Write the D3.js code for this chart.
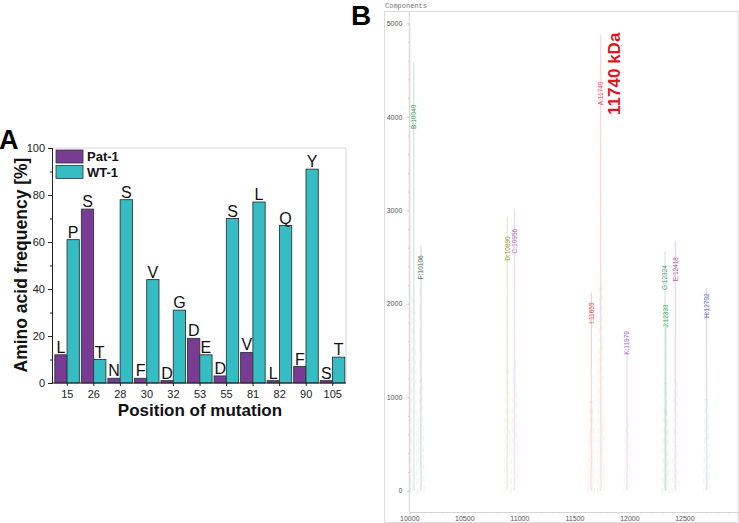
<html lang='en'>
<head>
<meta charset='UTF-8' />
<script src='https://d3js.org/d3.v7.min.js'></script>
<style>
  body { margin: 0; background: #fff; }
  text { font-family: 'Liberation Sans', Arial, sans-serif; }
  .mono { font-family: 'Liberation Mono', 'DejaVu Sans Mono', monospace; }
</style>
<title>Amino acid frequency and components</title>
</head>
<body>
<div id='chart'></div>
<script>
// panel A data
const positions = ["15", "26", "28", "30", "32", "53", "55", "81", "82", "90", "105"];
const patValues = [12, 74, 2, 2, 1, 19, 3, 13, 1, 7, 1];
const wtValues = [61, 10, 78, 44, 31, 12, 70, 77, 67, 91, 11];
const patLetters = ["L", "S", "N", "F", "D", "D", "D", "V", "L", "F", "S"];
const wtLetters = ["P", "T", "S", "V", "G", "E", "S", "L", "Q", "Y", "T"];
const seriesNames = ["Pat-1", "WT-1"];
const yTicksA = [0, 20, 40, 60, 80, 100];

// panel B data (deconvoluted components)
const compNames = ["A", "B", "C", "D", "E", "F", "G", "H", "I", "J", "K"];
const compMass = [11740, 10040, 10956, 10890, 12418, 10106, 12324, 12702, 11655, 12333, 11979];
const compHeight = [4880, 4590, 3010, 2930, 2670, 2620, 2560, 2170, 2120, 1980, 1700];
const compLabelAt = [4250, 4000, 2670, 2590, 2370, 2390, 2280, 1980, 1900, 1870, 1580];
const compColors = ["#e0505a", "#3f9c5f", "#b866c0", "#9c9a3c", "#a656a6", "#55705a",
                    "#4f9e86", "#5468b4", "#e0464e", "#46ae66", "#b070c0"];
const xTicksB = [10000, 10500, 11000, 11500, 12000, 12500];
const yTicksB = [0, 1000, 2000, 3000, 4000, 5000];

const W = 739, H = 523;
const svg = d3.select("#chart").append("svg").attr("width", W).attr("height", H);

// ---------- panel A ----------
const colA = d3.scaleOrdinal().domain(seriesNames).range(["#7a3b93", "#36bcc3"]);
const xA = d3.scaleBand().domain(positions).range([54, 346]).paddingInner(0).paddingOuter(0);
const xSub = d3.scaleBand().domain(seriesNames).range([0.8, xA.bandwidth() - 1.2]).padding(0);
const yA = d3.scaleLinear().domain([0, 100]).range([383, 148]);

const gA = svg.append("g");

// frame top/right
gA.append("path")
  .attr("d", `M52,${yA(100)}H346V${yA(0)}`)
  .attr("fill", "none").attr("stroke", "#d8d8d8").attr("stroke-width", 1);

const series = [
  { name: "Pat-1", values: patValues, letters: patLetters },
  { name: "WT-1", values: wtValues, letters: wtLetters }
];

series.forEach((s) => {
  const g = gA.append("g");
  const rows = positions.map((p, i) => ({ p, v: s.values[i], l: s.letters[i] }));
  g.selectAll("rect").data(rows).join("rect")
    .attr("x", (d) => xA(d.p) + xSub(s.name))
    .attr("y", (d) => yA(d.v))
    .attr("width", xSub.bandwidth())
    .attr("height", (d) => yA(0) - yA(d.v))
    .attr("fill", colA(s.name))
    .attr("stroke", "#2b3a3c").attr("stroke-width", 0.9);
  g.selectAll("text").data(rows).join("text")
    .attr("x", (d) => xA(d.p) + xSub(s.name) + xSub.bandwidth() / 2)
    .attr("y", (d) => yA(d.v) - 2)
    .attr("text-anchor", "middle")
    .attr("font-size", 16)
    .attr("fill", "#111")
    .text((d) => d.l);
});

// axes
const yAxisA = gA.append("g").attr("transform", "translate(52,0)")
  .call(d3.axisLeft(yA).tickValues(yTicksA).tickSize(4).tickPadding(3));
yAxisA.append("g").call(d3.axisLeft(yA).tickValues([10, 30, 50, 70, 90]).tickSize(2).tickFormat(""));
const xAxisA = gA.append("g").attr("transform", `translate(0,${yA(0)})`)
  .call(d3.axisBottom(xA).tickSize(3).tickPadding(4));
xAxisA.select(".domain").attr("d", `M52,0H346`);
[yAxisA, xAxisA].forEach((ax) => {
  ax.selectAll("text").attr("font-size", 11).attr("fill", "#222")
    .attr("font-family", "'Liberation Sans', Arial, sans-serif");
  ax.selectAll("line, path").attr("stroke", "#222");
});

// legend
const legA = gA.append("g").attr("transform", "translate(56,150)");
seriesNames.forEach((n, i) => {
  legA.append("rect").attr("x", 0).attr("y", i * 15.5).attr("width", 27).attr("height", 13)
    .attr("fill", colA(n)).attr("stroke", "#2b3a3c").attr("stroke-width", 0.8);
  legA.append("text").attr("x", 31).attr("y", i * 15.5 + 11).attr("font-size", 13)
    .attr("font-weight", "bold").attr("fill", "#111").text(n);
});

// titles
gA.append("text").attr("transform", "translate(27,265) rotate(-90)")
  .attr("text-anchor", "middle").attr("font-size", 17.5).attr("font-weight", "bold")
  .attr("fill", "#111").text("Amino acid frequency [%]");
gA.append("text").attr("x", 200).attr("y", 416).attr("text-anchor", "middle")
  .attr("font-size", 17).attr("font-weight", "bold").attr("fill", "#111")
  .text("Position of mutation");
gA.append("text").attr("x", -1).attr("y", 149).attr("font-size", 27)
  .attr("font-weight", "bold").attr("fill", "#000").text("A");

// ---------- panel B ----------
const xB = d3.scaleLinear().domain([10000, 12990]).range([409.3, 738.3]);
const yB = d3.scaleLinear().domain([0, 5000]).range([490.7, 23.3]);
const gB = svg.append("g");

gB.append("text").attr("x", 351).attr("y", 25).attr("font-size", 28)
  .attr("font-weight", "bold").attr("fill", "#000").text("B");
gB.append("text").attr("class", "mono").attr("x", 385).attr("y", 7.5)
  .attr("font-size", 7).attr("fill", "#777").text("Components");

gB.append("rect").attr("x", 384.5).attr("y", 11.5).attr("width", 353.5).attr("height", 511)
  .attr("fill", "none").attr("stroke", "#dcdcdc").attr("stroke-width", 1);

const yAxisB = gB.append("g").attr("transform", "translate(409.3,0)")
  .call(d3.axisLeft(yB).tickValues(yTicksB).tickSize(3).tickPadding(4).tickFormat(d3.format("d")));
yAxisB.append("g").call(d3.axisLeft(yB).ticks(25).tickSize(1.5).tickFormat(""));
yAxisB.select(".domain").attr("d", "M0,11.5V512");
const xAxisB = gB.append("g").attr("transform", "translate(0,512)")
  .call(d3.axisBottom(xB).tickValues(xTicksB).tickSize(2).tickPadding(2).tickFormat(d3.format("d")));
xAxisB.append("g").call(d3.axisBottom(xB).ticks(30).tickSize(1.5).tickFormat(""));
xAxisB.select(".domain").remove();
[yAxisB, xAxisB].forEach((ax) => {
  ax.selectAll("text").attr("font-size", 7).attr("fill", "#555")
    .attr("font-family", "'DejaVu Sans', sans-serif");
  ax.selectAll("line, path").attr("stroke", "#d6d6d6");
});

// peaks
const comps = compNames.map((n, i) => ({
  n, m: compMass[i], h: compHeight[i], la: compLabelAt[i], c: compColors[i]
}));
const gPeaks = gB.append("g");
comps.forEach((d) => {
  const c = d3.color(d.c); c.opacity = 0.22;
  const narrow = d3.line()([[xB(d.m - 5), yB(0)], [xB(d.m), yB(d.h)], [xB(d.m + 5), yB(0)]]);
  gPeaks.append("path").attr("d", narrow).attr("fill", "none")
    .attr("stroke", c.toString()).attr("stroke-width", 0.7);
  const c2 = d3.color(d.c); c2.opacity = 0.14;
  const wide = d3.line()([[xB(d.m - 30), yB(-30)], [xB(d.m - 10), yB(d.h * 0.45)],
                          [xB(d.m + 10), yB(d.h * 0.45)], [xB(d.m + 30), yB(-30)]]);
  gPeaks.append("path").attr("d", wide).attr("fill", "none")
    .attr("stroke", c2.toString()).attr("stroke-width", 0.6).attr("stroke-dasharray", "6,4");
});
gPeaks.selectAll("text").data(comps).join("text")
  .attr("transform", (d) => `translate(${xB(d.m) + 2.4},${yB(d.la)}) rotate(-90)`)
  .attr("text-anchor", "middle").attr("font-size", 6.5)
  .attr("font-family", "'DejaVu Sans', sans-serif")
  .attr("fill", (d) => d.c)
  .text((d) => `${d.n}:${d.m}`);

gB.append("text").attr("transform", `translate(${xB(11740) + 19},${yB(4460)}) rotate(-90)`)
  .attr("text-anchor", "middle").attr("font-size", 17).attr("font-weight", "bold")
  .attr("fill", "#e3131c").text("11740 kDa");
</script>
</body>
</html>
